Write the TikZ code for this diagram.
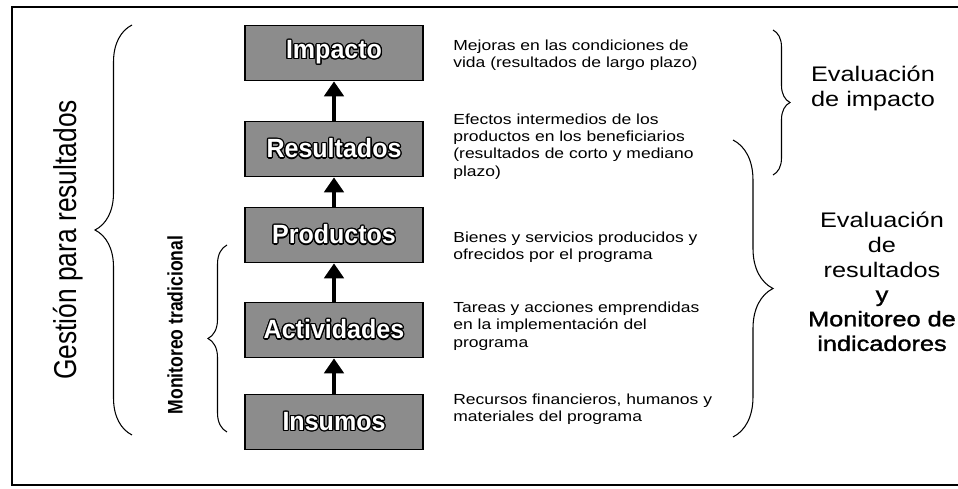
\documentclass[tikz,border=0pt]{standalone}
\usepackage{fontspec}
\setmainfont{Liberation Sans}
\newfontfamily\descfont{Liberation Sans}[FakeStretch=1.2]
\newfontfamily\darkfont{Liberation Sans}[FakeStretch=1.2, FakeBold=1.5]
\newfontfamily\boxfont{Liberation Sans}[FakeStretch=0.95]
\usepackage{contour}
\contourlength{0.7pt}
\usetikzlibrary{arrows.meta,decorations.pathreplacing}

\tikzset{
  stage/.style={draw=black, line width=1pt, fill=black!45, minimum width=3.56cm,
    minimum height=1.1cm, inner sep=0pt, text=white,
    font=\boxfont\fontsize{15}{15}\selectfont\bfseries},
  flow/.style={line width=2.8pt, -{Triangle[width=11pt,length=8.5pt]}},
  desc/.style={anchor=north west, align=left, inner sep=0pt,
    font=\descfont\fontsize{8.3}{9.7}\selectfont},
  evaltext/.style={anchor=north, align=center, inner sep=0pt,
    font=\descfont\fontsize{12}{14}\selectfont},
  curly/.style={decorate, line width=0.6pt},
}

\begin{document}
\begin{tikzpicture}[x=0.02cm, y=-0.02cm]
  \useasboundingbox (0,0) rectangle (958,489);
  % Frame
  \draw[line width=1.2pt] (962,7) -- (12,7) -- (12,485) -- (962,485);
  % Boxes
  \node[stage] (impacto) at (334,53) {\contour{black}{Impacto}};
  \node[stage] (resultados) at (334,149) {\contour{black}{Resultados}};
  \node[stage] (productos) at (334,235) {\contour{black}{Productos}};
  \node[stage] (actividades) at (334,330) {\contour{black}{Actividades}};
  \node[stage] (insumos) at (334,422) {\contour{black}{Insumos}};
  % Arrows
  \draw[flow] (insumos) -- (actividades);
  \draw[flow] (actividades) -- (productos);
  \draw[flow] (productos) -- (resultados);
  \draw[flow] (resultados) -- (impacto);
  % Descriptions
  \node[desc] (d1) at (453,40) {Mejoras en las condiciones de\\vida (resultados de largo plazo)};
  \node[desc] (d2) at (453,114) {Efectos intermedios de los\\productos en los beneficiarios\\(resultados de corto y mediano\\plazo)};
  \node[desc] (d3) at (453,232) {Bienes y servicios producidos y\\ofrecidos por el programa};
  \node[desc] (d4) at (453,302) {Tareas y acciones emprendidas\\en la implementación del\\programa};
  \node[desc] (d5) at (453,394) {Recursos financieros, humanos y\\materiales del programa};
  % Left labels
  \node[rotate=90] (gestion) at (68,240)
    {\scalebox{1}[1.2]{\fontsize{15}{15}\selectfont Gestión para resultados}};
  \node[rotate=90] (monitoreo) at (175,325)
    {\scalebox{1}[1.2]{\fontsize{10}{10}\selectfont\bfseries Monitoreo tradicional}};
  % Braces
  \draw[curly, decoration={brace, amplitude=0.74cm}] (132,435) -- (132,25);
  \draw[curly, decoration={brace, amplitude=0.38cm}] (227,432) -- (227,245);
  \draw[curly, decoration={brace, amplitude=0.34cm}] (773,30) -- (773,175);
  \draw[curly, decoration={brace, amplitude=0.8cm}] (733,140) -- (733,437);
  % Right labels
  \node[evaltext] (evalimp) at (873,66) {Evaluación\\de impacto};
  \node[evaltext] (evalres) at (882,212)
    {Evaluación\\de\\resultados\\{\darkfont y}\\{\darkfont Monitoreo de}\\{\darkfont indicadores}};
\end{tikzpicture}
\end{document}
